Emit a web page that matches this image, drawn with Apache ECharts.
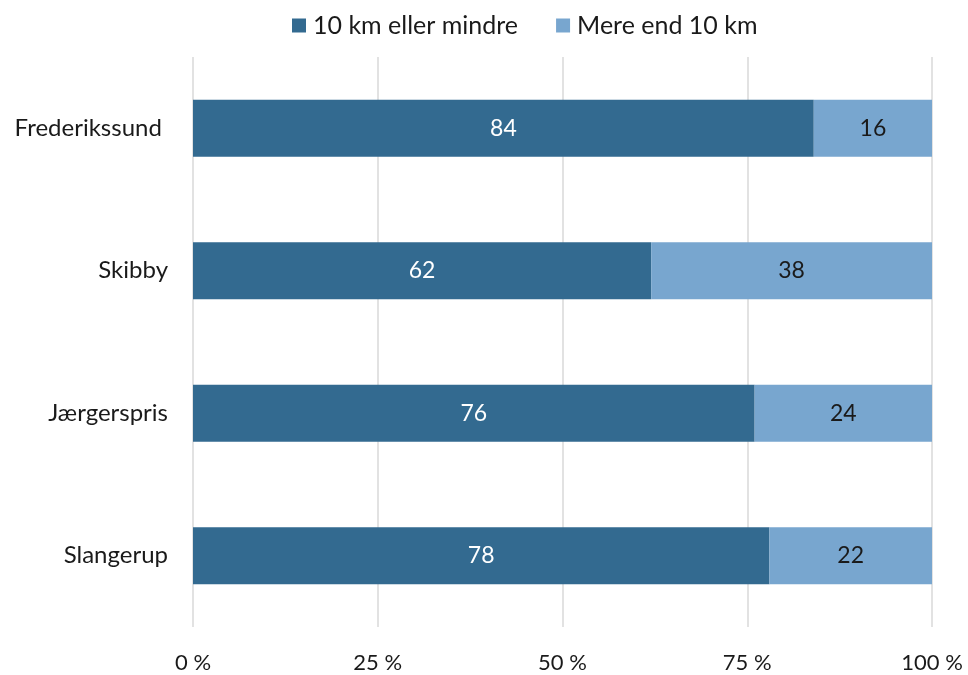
<!DOCTYPE html>
<html><head><meta charset="utf-8">
<script src="https://cdn.jsdelivr.net/npm/echarts@6/dist/echarts.min.js"></script>
<style>html,body{margin:0;padding:0;background:#fff}#c{width:968px;height:675px}</style>
</head><body><div id="c"></div>
<script>
const categories = ['Frederikssund ', 'Skibby', 'Jærgerspris', 'Slangerup'];
const seriesNames = ['10 km eller mindre', 'Mere end 10 km'];
const near = [84, 62, 76, 78];
const far = [16, 38, 24, 22];
const xTicks = [0, 25, 50, 75, 100];

const FONT = 'Lato, "Open Sans", sans-serif';
const chart = echarts.init(document.getElementById('c'));
chart.setOption({
  animation: false,
  textStyle: { fontFamily: FONT },
  legend: {
    top: 8, left: 287, itemWidth: 14, itemHeight: 14, itemGap: 38,
    icon: 'rect',
    textStyle: { fontSize: 25, color: '#1a1a1a', fontFamily: FONT, padding: [0, 0, 0, 2] },
    data: seriesNames
  },
  grid: { left: 193, right: 36, top: 57, bottom: 48, containLabel: false },
  xAxis: {
    type: 'value', min: xTicks[0], max: xTicks[xTicks.length - 1], interval: 25,
    axisLine: { show: false }, axisTick: { show: false },
    splitLine: { lineStyle: { color: '#d9d9d9', width: 1.5 } },
    axisLabel: { formatter: '{value} %', fontSize: 22, color: '#1a1a1a', margin: 25, fontFamily: FONT }
  },
  yAxis: {
    type: 'category', inverse: true, data: categories,
    axisLine: { show: false }, axisTick: { show: false },
    axisLabel: { fontSize: 24, color: '#1a1a1a', margin: 25, fontFamily: FONT }
  },
  series: [
    {
      name: seriesNames[0], type: 'bar', stack: 's', data: near, barWidth: 57,
      itemStyle: { color: '#336a90' },
      label: { show: true, position: 'inside', color: '#ffffff', fontSize: 23, fontFamily: FONT }
    },
    {
      name: seriesNames[1], type: 'bar', stack: 's', data: far, barWidth: 57,
      itemStyle: { color: '#78a6cf' },
      label: { show: true, position: 'inside', color: '#1a1a1a', fontSize: 23, fontFamily: FONT }
    }
  ]
});
</script></body></html>
